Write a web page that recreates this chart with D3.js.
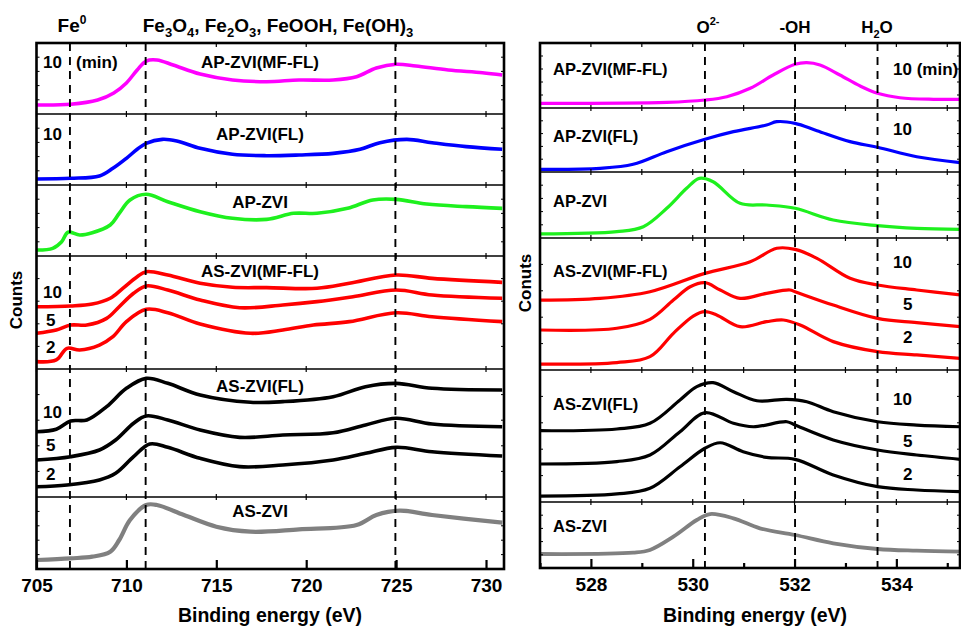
<!DOCTYPE html>
<html><head><meta charset="utf-8">
<script src="https://cdn.jsdelivr.net/npm/d3@7"></script>
<style>
body{margin:0;background:#fff;}
text{font-family:Arial,"Liberation Sans",sans-serif;font-weight:bold;fill:#000;}
</style>
</head><body>
<svg id="c" width="961" height="629"></svg>
<script>
// ---------------- DATA ----------------
// Fe 2p panel: x ticks and reference lines (eV)
const feTicks = [705, 710, 715, 720, 725, 730];
const feRefLines = [706.86, 711.07, 724.96];
// O 1s panel
const oTicks = [528, 530, 532, 534];
const oMinorTicks = [527, 529, 531, 533, 535];
const oRefLines = [530.24, 532.01, 533.63];

// Fe 2p spectra: [binding energy (eV), normalised counts within row (0-100)]
const fe_APMFFL_10 = [[705,12.7],[706.9,13.7],[708.4,19.7],[709.3,29.6],[710.0,43.7],[710.6,62],[711.1,74.6],[711.7,76],[712.6,69],[714.1,56.3],[715.9,47.9],[717.8,45.5],[719.6,47.9],[721.5,47.9],[722.8,52.5],[723.9,64.8],[725,70],[726.1,67.6],[727.9,62],[729.8,58.2],[730.9,54.9]];
const fe_APFL_10 = [[705,8.5],[706.9,9.4],[708.5,12.7],[709.25,23.5],[710.0,37.6],[710.6,50.3],[711.1,58.7],[712.0,64.3],[712.8,62],[714.1,51.6],[715.9,43.2],[717.8,41.3],[719.6,42.3],[721.5,44.6],[723.0,50.3],[724.1,59.6],[725.6,64.3],[727.0,59.6],[728.9,54],[730.9,50.3]];
const fe_AP = [[705,8.5],[705.9,10.8],[706.4,20.2],[706.75,33.4],[707.4,29.6],[708.1,32.8],[709.1,43.7],[709.6,60.1],[710.2,78.9],[711.1,86.9],[712.3,76.5],[714.1,62.4],[715.9,53.1],[717.8,51.6],[719.3,60.1],[720.6,60.1],[722.3,67.1],[723.7,78.9],[725,79.8],[726.7,73.2],[728.9,69.5],[730.9,67.1]];
const fe_ASMFFL_10 = [[705,55.1],[706.9,55.8],[708.1,57.5],[709.1,62.6],[709.8,71.4],[710.6,81.7],[711.1,86.1],[712.3,83.2],[714.1,75.8],[715.9,72.3],[717.8,72],[720.6,71.4],[722.4,75.8],[725,83.2],[727,80.2],[730.9,76.7]];
const fe_ASMFFL_5 = [[705,31.6],[706.1,34.5],[706.9,38.9],[707.8,38.9],[708.9,44.8],[709.6,55.1],[710.4,67],[711.1,73.5],[712.3,69.9],[714.1,61.1],[716.3,54.2],[718.7,56.6],[720.6,59.6],[722.6,64],[725,69.9],[727,65.5],[730.9,62.6]];
const fe_ASMFFL_2 = [[705,6.5],[706.1,8],[706.7,18.3],[707.4,16.8],[708.5,21.2],[709.25,28.6],[710.0,41.9],[711.1,52.8],[712.3,49.8],[714.1,39.8],[716.9,31.6],[718.7,34.5],[720.4,38.9],[722.4,41.9],[725,49.8],[727,46.3],[730.9,41.9]];
const fe_ASFL_10 = [[705,51],[706.1,52.9],[706.9,59.4],[707.8,60.2],[708.9,70.6],[710.0,84.9],[711.1,92.7],[712.3,88.8],[714.1,79.7],[716.9,74],[718.7,74.5],[721.5,78.4],[723.3,86.2],[725,88.8],[727,84.9],[730.9,83.6]];
const fe_ASFL_5 = [[705,28.9],[706.9,31.5],[708.5,36.7],[709.4,44.5],[710.4,57.6],[711.1,63.3],[712.3,60.2],[714.1,52.3],[716.3,46.6],[718.7,48.4],[721.5,50.2],[723.3,56.3],[725,61.5],[727,57],[730.9,54.9]];
const fe_ASFL_2 = [[705,8],[706.7,9.4],[708.5,13.3],[709.4,18.5],[710.4,31.5],[711.3,41.4],[712.3,38.8],[714.1,30.2],[716.3,23.7],[718.7,25],[721.5,28.9],[723.3,34.1],[725,38.8],[727,35.4],[730.9,32]];
const fe_AS = [[705,12.5],[706.9,14.8],[708.1,17.1],[709.1,24],[709.6,40.3],[710.2,68],[711.1,88.9],[711.7,88.9],[713.2,75],[715.0,58.8],[716.9,51.8],[719.6,55.1],[722.8,61.1],[723.9,75],[725.2,81],[727,75],[730.9,64.3]];

// O 1s spectra
const o_APMFFL_10 = [[527,7.2],[529.49,8.7],[530.24,12.3],[530.67,17.4],[531.13,30.3],[531.58,50.8],[532.01,67.2],[532.24,69.7],[532.5,66.2],[532.89,50.8],[533.29,33.8],[533.63,22.6],[534.07,15.8],[534.73,13.4],[535.27,13.4]];
const o_APFL_10 = [[527,4.2],[528.18,5.7],[528.83,12],[529.49,31.8],[530.24,51.1],[530.8,63],[531.45,73.4],[531.65,78.6],[532.01,76],[532.44,64.6],[533.09,47.4],[533.63,38.6],[534.4,23.9],[535.27,14.6]];
const o_AP = [[527,6.1],[528.51,9.6],[529.03,17.1],[529.49,45],[529.88,75.3],[530.13,90.4],[530.4,85.3],[530.93,52.5],[531.45,50],[532.01,45],[532.76,27.3],[533.63,18.7],[534.4,14.6],[535.27,13.1]];
const o_ASMFFL_10 = [[527,53],[528.18,54.3],[529.16,59.3],[530.24,73.2],[531.13,82],[531.65,92.2],[532.01,91.4],[532.44,84.6],[533.09,69.5],[533.63,64.4],[534.4,60.6],[535.27,56.8]];
const o_ASMFFL_5 = [[527,30.3],[528.51,31.6],[529.16,38.4],[529.62,53],[529.95,63.1],[530.24,66.2],[530.54,60.6],[530.93,54.3],[531.45,58.1],[531.91,60.6],[532.01,59.3],[532.76,49.2],[533.63,39.1],[534.4,35.9],[535.27,32.8]];
const o_ASMFFL_2 = [[527,4.5],[528.51,5.6],[529.16,10.1],[529.62,27.8],[530.01,40.9],[530.24,44.2],[530.47,41.7],[530.93,32.8],[531.45,36.6],[531.78,37.9],[532.11,34.1],[532.76,21.5],[533.63,13.9],[534.4,11.4],[535.27,8.8]];
const o_ASFL_10 = [[527,54],[528.51,55.3],[529.16,59.6],[529.75,77.3],[530.08,87.4],[530.4,90.4],[530.8,83.6],[531.26,76.7],[531.85,77.8],[532.24,76],[532.76,68.4],[533.63,60.8],[534.4,58.3],[535.27,57]];
const o_ASFL_5 = [[527,28.8],[528.51,30.6],[529.16,35.6],[529.75,53.3],[530.24,67.7],[530.8,59.6],[531.19,57],[531.85,60.8],[532.01,58.3],[532.76,47],[533.63,39.4],[534.4,35.6],[535.27,32.3]];
const o_ASFL_2 = [[527,4.5],[528.51,6.1],[529.16,10.4],[529.75,26.7],[530.24,40.7],[530.54,44.9],[530.99,38.1],[531.45,33.8],[532.01,32.3],[532.76,20.5],[533.63,11.6],[534.4,9.1],[535.27,7.8]];
const o_AS = [[527,21.2],[528.83,23.2],[529.16,27.3],[529.62,47.4],[530.08,72.7],[530.34,81.8],[530.8,75.3],[531.32,60.1],[532.01,50],[532.76,37.4],[533.63,28.8],[534.4,26.2],[535.27,24.7]];

const rowNames = ["AP-ZVI(MF-FL)", "AP-ZVI(FL)", "AP-ZVI", "AS-ZVI(MF-FL)", "AS-ZVI(FL)", "AS-ZVI"];
const rowColors = ["#ff00ff", "#0000ff", "#1ef01e", "#ff0000", "#000000", "#808080"];

// ---------------- LAYOUT ----------------
const svg = d3.select("#c");
const panels = [
  {
    x: d3.scaleLinear().domain([705, 731]).range([36.5, 504]),
    rows: [43, 114, 185, 256, 369, 497, 569],
    series: [[fe_APMFFL_10],[fe_APFL_10],[fe_AP],[fe_ASMFFL_10, fe_ASMFFL_5, fe_ASMFFL_2],[fe_ASFL_10, fe_ASFL_5, fe_ASFL_2],[fe_AS]],
    ticks: feTicks, minor: [], refs: feRefLines, lw: 3.6,
    nameX: 260, nameAnchor: "middle",
    nameY: [68, 140, 208, 277, 392, 517],
    xTitleX: 270, yTitle: "Counts", yTitleX: 22, yTitleY: 300
  },
  {
    x: d3.scaleLinear().domain([527, 535.25]).range([540, 960]),
    rows: [43, 108, 172, 238, 370, 502, 568],
    series: [[o_APMFFL_10],[o_APFL_10],[o_AP],[o_ASMFFL_10, o_ASMFFL_5, o_ASMFFL_2],[o_ASFL_10, o_ASFL_5, o_ASFL_2],[o_AS]],
    ticks: oTicks, minor: oMinorTicks, refs: oRefLines, lw: 3.2,
    nameX: 553, nameAnchor: "start",
    nameY: [75, 142, 207, 277, 410, 532],
    xTitleX: 755, yTitle: "Conuts", yTitleX: 531, yTitleY: 283
  }
];

panels.forEach((p, pi) => {
  const g = svg.append("g");
  const [x0, x1] = p.x.range();
  const top = p.rows[0], bottom = p.rows[p.rows.length - 1];
  const clipId = "clip" + pi;
  svg.append("clipPath").attr("id", clipId).append("rect")
    .attr("x", x0).attr("y", top).attr("width", x1 - x0).attr("height", bottom - top);

  p.series.forEach((group, ri) => {
    const y = d3.scaleLinear().domain([0, 100]).range([p.rows[ri + 1], p.rows[ri]]);
    const line = d3.line().x(d => p.x(d[0])).y(d => y(d[1])).curve(d3.curveCatmullRom.alpha(0.5));
    group.forEach(s => {
      g.append("path").attr("d", line(s)).attr("fill", "none")
        .attr("stroke", rowColors[ri]).attr("stroke-width", ri === 5 ? p.lw + 0.6 : p.lw)
        .attr("stroke-linejoin", "round").attr("clip-path", `url(#${clipId})`);
    });
    const yt = y.ticks(4).filter(t => t > 0 && t < 100);
    yt.forEach(t => {
      g.append("line").attr("x1", x0).attr("x2", x0 + 3).attr("y1", y(t)).attr("y2", y(t)).attr("stroke", "#000").attr("stroke-width", 1);
      g.append("line").attr("x1", x1).attr("x2", x1 - 3).attr("y1", y(t)).attr("y2", y(t)).attr("stroke", "#000").attr("stroke-width", 1);
    });
  });

  p.refs.forEach(r => {
    g.append("line").attr("x1", p.x(r)).attr("x2", p.x(r)).attr("y1", top).attr("y2", bottom)
      .attr("stroke", "#000").attr("stroke-width", 1.9).attr("stroke-dasharray", "8,6");
  });

  p.rows.slice(1, -1).forEach(ry => {
    g.append("line").attr("x1", x0).attr("x2", x1).attr("y1", ry).attr("y2", ry).attr("stroke", "#000").attr("stroke-width", 1.5);
    p.ticks.concat(p.minor).forEach(t => {
      g.append("line").attr("x1", p.x(t)).attr("x2", p.x(t)).attr("y1", ry - 3).attr("y2", ry + 3).attr("stroke", "#000").attr("stroke-width", 1.2);
    });
  });
  p.ticks.concat(p.minor).forEach(t => {
    g.append("line").attr("x1", p.x(t)).attr("x2", p.x(t)).attr("y1", top).attr("y2", top + 4).attr("stroke", "#000").attr("stroke-width", 1.2);
  });

  const ax = svg.append("g").attr("transform", `translate(0,${bottom})`)
    .call(d3.axisBottom(p.x).tickValues(p.ticks).tickSizeInner(-9).tickSizeOuter(0).tickPadding(10).tickFormat(d3.format("d")));
  ax.select(".domain").remove();
  ax.selectAll(".tick line").attr("stroke-width", 2.2);
  ax.selectAll("text").style("font-size", "19px").style("font-family", "Arial, 'Liberation Sans', sans-serif").style("font-weight", "bold").attr("fill", "#000");
  if (p.minor.length) {
    const axm = svg.append("g").attr("transform", `translate(0,${bottom})`)
      .call(d3.axisBottom(p.x).tickValues(p.minor).tickSizeInner(-5).tickSizeOuter(0).tickFormat(""));
    axm.select(".domain").remove();
    axm.selectAll(".tick line").attr("stroke-width", 2.2);
  }

  g.append("rect").attr("x", x0).attr("y", top).attr("width", x1 - x0).attr("height", bottom - top)
    .attr("fill", "none").attr("stroke", "#000").attr("stroke-width", 2.6);

  rowNames.forEach((n, i) => {
    svg.append("text").attr("x", p.nameX).attr("y", p.nameY[i]).attr("text-anchor", p.nameAnchor)
      .style("font-size", pi === 0 ? "17px" : "16.5px").text(n);
  });

  svg.append("text").attr("x", p.xTitleX).attr("y", 622).attr("text-anchor", "middle").style("font-size", "19.5px").text("Binding energy (eV)");
  svg.append("text").attr("transform", `translate(${p.yTitleX},${p.yTitleY}) rotate(-90)`).attr("text-anchor", "middle").style("font-size", "17px").text(p.yTitle);
});

const tag = (x, y, t, anchor) => svg.append("text").attr("x", x).attr("y", y).attr("text-anchor", anchor || "start").style("font-size", "17px").text(t);
tag(43, 68, "10"); tag(76, 68, "(min)");
tag(43, 140, "10");
tag(43, 298, "10"); tag(46, 326, "5"); tag(46, 353, "2");
tag(43, 418, "10"); tag(46, 451, "5"); tag(46, 480, "2");
tag(893, 75, "10 (min)");
tag(893, 135, "10");
tag(893, 268, "10"); tag(903, 310, "5"); tag(903, 343, "2");
tag(893, 405, "10"); tag(903, 447, "5"); tag(903, 480, "2");

// header labels with sub/superscripts
function rich(x, y, parts, anchor, size, small) {
  const t = svg.append("text").attr("x", x).attr("y", y).attr("text-anchor", anchor).style("font-size", size + "px");
  let shift = 0;
  parts.forEach(([s, k]) => {
    const target = k === "sub" ? 5 : (k === "sup" ? -8 : 0);
    const sp = t.append("tspan").attr("dy", target - shift).text(s);
    if (k) sp.style("font-size", small + "px");
    shift = target;
  });
}
rich(72, 32, [["Fe"], ["0", "sup"]], "middle", 19, 12);
rich(278, 32, [["Fe"], ["3", "sub"], ["O"], ["4", "sub"], [", Fe"], ["2", "sub"], ["O"], ["3", "sub"], [", FeOOH, Fe(OH)"], ["3", "sub"]], "middle", 19, 13);
rich(708, 33, [["O"], ["2-", "sup"]], "middle", 17, 11);
rich(795, 33, [["-OH"]], "middle", 17, 11);
rich(877, 33, [["H"], ["2", "sub"], ["O"]], "middle", 17, 11);
</script>
</body></html>
